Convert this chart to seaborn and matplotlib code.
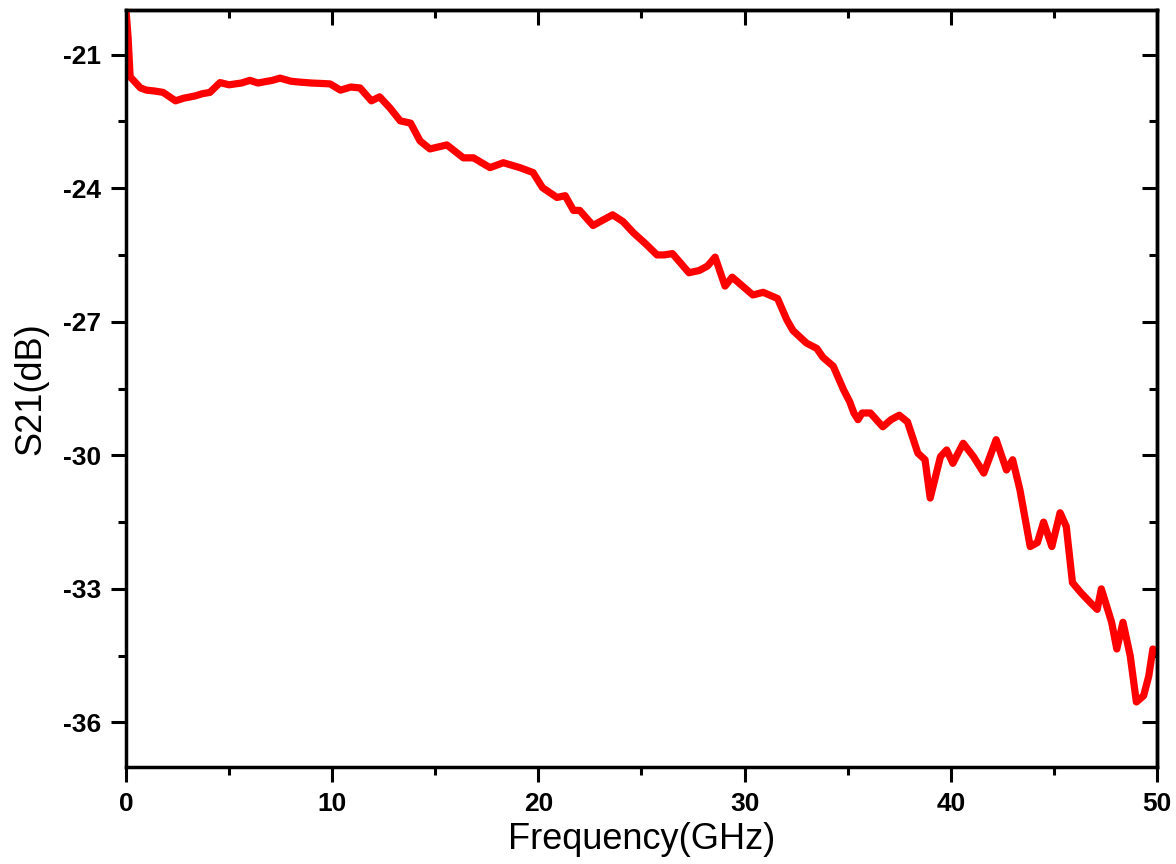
import matplotlib
matplotlib.use("Agg")
import matplotlib.pyplot as plt
import seaborn as sns
import pandas as pd
from matplotlib.ticker import MultipleLocator

freq_ghz = [0.0, 0.1, 0.2, 0.4, 0.7, 1.0, 1.4, 1.8, 2.4, 2.8, 3.35, 3.7, 4.07, 4.56,
            5.0, 5.29, 5.6, 6.01, 6.4, 6.74, 7.1, 7.47, 8.0, 8.44, 9.0, 9.5, 9.9,
            10.4, 10.9, 11.35, 11.9, 12.3, 12.8, 13.3, 13.8, 14.26, 14.74, 15.56,
            16.36, 16.85, 17.65, 18.3, 19.1, 19.74, 20.2, 20.9, 21.3, 21.7, 22.0,
            22.65, 23.0, 23.6, 24.1, 24.6, 25.2, 25.75, 26.1, 26.5, 27.3, 27.8,
            28.2, 28.57, 29.05, 29.4, 29.9, 30.4, 30.9, 31.6, 32.05, 32.35, 33.0,
            33.5, 33.8, 34.3, 34.8, 35.1, 35.3, 35.5, 35.7, 36.1, 36.7, 37.1, 37.5,
            37.9, 38.4, 38.75, 39.0, 39.5, 39.8, 40.1, 40.6, 41.1, 41.6, 42.2,
            42.7, 43.0, 43.35, 43.85, 44.2, 44.5, 44.9, 45.3, 45.6, 45.9, 46.3,
            46.75, 47.1, 47.3, 47.8, 48.05, 48.35, 48.7, 49.0, 49.35, 49.6, 49.8,
            50.0]
s21_db = [-20.0, -20.6, -21.5, -21.6, -21.75, -21.8, -21.82, -21.85, -22.04, -21.98,
          -21.93, -21.88, -21.85, -21.63, -21.68, -21.66, -21.64, -21.58, -21.64,
          -21.61, -21.58, -21.53, -21.6, -21.62, -21.64, -21.65, -21.66, -21.8,
          -21.73, -21.75, -22.04, -21.95, -22.2, -22.49, -22.54, -22.94, -23.12,
          -23.03, -23.32, -23.32, -23.54, -23.43, -23.54, -23.65, -23.99, -24.21,
          -24.17, -24.5, -24.5, -24.84, -24.75, -24.6, -24.75, -25.0, -25.25,
          -25.5, -25.5, -25.47, -25.9, -25.85, -25.75, -25.55, -26.2, -26.0,
          -26.2, -26.4, -26.34, -26.48, -26.96, -27.2, -27.48, -27.6, -27.8,
          -28.0, -28.53, -28.8, -29.05, -29.2, -29.05, -29.05, -29.36, -29.2,
          -29.1, -29.25, -29.95, -30.1, -30.96, -30.03, -29.88, -30.18, -29.73,
          -30.03, -30.4, -29.65, -30.33, -30.1, -30.77, -32.05, -31.96, -31.5,
          -32.05, -31.29, -31.6, -32.86, -33.08, -33.3, -33.46, -33.0, -33.75,
          -34.35, -33.75, -34.5, -35.54, -35.4, -34.96, -34.35, -34.4]

x_ticks = [0, 10, 20, 30, 40, 50]
y_ticks = [-36, -33, -30, -27, -24, -21]

sns.set_style("ticks")
plt.rcParams['font.family'] = ['Liberation Sans', 'DejaVu Sans']
plt.rcParams['axes.unicode_minus'] = False
plt.rcParams['text.color'] = 'black'
plt.rcParams['axes.labelcolor'] = 'black'

df = pd.DataFrame({"Frequency": freq_ghz, "S21": s21_db})

fig = plt.figure(figsize=(11.76, 8.64), dpi=100)
ax = fig.add_axes([126/1176, 1 - 767/864, (1157-126)/1176, (767-10)/864])

sns.lineplot(data=df, x="Frequency", y="S21", ax=ax, color="#ff0000",
             linewidth=5.2, estimator=None, sort=False)

ax.set_xlim(0, 50)
ax.set_ylim(-37, -20)
ax.set_xticks(x_ticks)
ax.set_yticks(y_ticks)
ax.xaxis.set_minor_locator(MultipleLocator(5))
ax.yaxis.set_minor_locator(MultipleLocator(1.5))

for sp in ax.spines.values():
    sp.set_visible(True)
    sp.set_linewidth(2.5)
    sp.set_color("black")

ax.tick_params(axis="both", which="major", direction="out", length=11, width=2.2,
               labelsize=19, pad=7, colors="black")
ax.tick_params(axis="both", which="minor", direction="out", length=5.5, width=2.2,
               colors="black")
for lab in ax.get_xticklabels() + ax.get_yticklabels():
    lab.set_fontweight("bold")

# mirrored inward ticks on top and right
secx = ax.secondary_xaxis("top")
secx.set_xticks(x_ticks)
secx.xaxis.set_minor_locator(MultipleLocator(5))
secx.tick_params(which="major", direction="in", length=11, width=2.2, labeltop=False,
                 colors="black")
secx.tick_params(which="minor", direction="in", length=5.5, width=2.2, colors="black")
secx.spines["top"].set_linewidth(2.5)
secy = ax.secondary_yaxis("right")
secy.set_yticks(y_ticks)
secy.yaxis.set_minor_locator(MultipleLocator(1.5))
secy.tick_params(which="major", direction="in", length=11, width=2.2, labelright=False,
                 colors="black")
secy.tick_params(which="minor", direction="in", length=5.5, width=2.2, colors="black")
secy.spines["right"].set_linewidth(2.5)

ax.set_xlabel("Frequency(GHz)", fontsize=26, labelpad=4, color="black")
ax.set_ylabel("S21(dB)", fontsize=26, labelpad=10, color="black")

fig.savefig("out.png", dpi=100)
